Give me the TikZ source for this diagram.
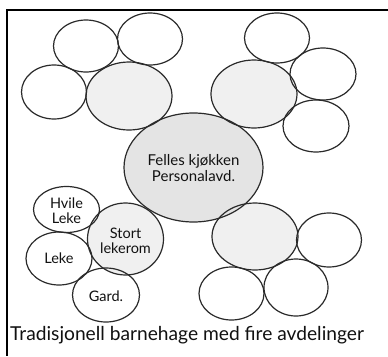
\documentclass[tikz,border=0pt]{standalone}
\usepackage{fontspec}
\setmainfont{Lato}
\usetikzlibrary{shapes.geometric}
\definecolor{linec}{HTML}{2A2A2A}
\definecolor{txtc}{HTML}{111111}
\definecolor{lightfill}{HTML}{F0F0F0}
\definecolor{midfill}{HTML}{E4E4E4}
\tikzset{
  room/.style={ellipse, draw=linec, line width=1.2pt, inner sep=0pt},
  lbl/.style={text=txtc, align=center, inner sep=0pt, font=\fontsize{14.5}{14.5}\selectfont},
  biglbl/.style={text=txtc, align=center, inner sep=0pt, font=\fontsize{15}{16}\selectfont},
  frameline/.style={line width=1.5pt, black},
}
\begin{document}
\begin{tikzpicture}[x=1pt,y=-1pt]
\useasboundingbox (0,0) rectangle (388,356);
% fills
\foreach \n/\x/\y/\rx/\ry/\c in {
  a/86/46/32.5/26/white, b/150/39/32.5/26/white, c/54/92/32.5/27/white,
  e/277/38/32.5/25/white, g/323/74/33/26/white, h/316/126/33/26/white,
  hv/66.5/209.5/33/23/white, lk/59/258.5/33/26.5/white, gd/106/295/33.5/27/white,
  k/329/240/32.5/27/white, l/231.5/293.5/32.5/26.5/white, m/296/287.5/32/28.5/white,
  d/129/96/43/34/lightfill, f/254/94/43/34/lightfill, j/255/236.5/43/33.5/lightfill,
  st/125.5/239/38/36/lightfill, ctr/193.5/167.5/69.5/54.5/midfill}
  { \fill[\c] (\x,\y) ellipse [x radius=\rx pt, y radius=\ry pt]; }
% outlines
\foreach \n/\x/\y/\rx/\ry in {
  a/86/46/32.5/26, b/150/39/32.5/26, c/54/92/32.5/27,
  e/277/38/32.5/25, g/323/74/33/26, h/316/126/33/26,
  hv/66.5/209.5/33/23, lk/59/258.5/33/26.5, gd/106/295/33.5/27,
  k/329/240/32.5/27, l/231.5/293.5/32.5/26.5, m/296/287.5/32/28.5,
  d/129/96/43/34, f/254/94/43/34, j/255/236.5/43/33.5,
  st/125.5/239/38/36, ctr/193.5/167.5/69.5/54.5}
  { \node[room, minimum width={2*\rx pt}, minimum height={2*\ry pt}] (\n) at (\x,\y) {}; }
% labels
\node[biglbl] (tctr) at ([yshift=-1pt]ctr.center) {Felles kjøkken\\Personalavd.};
\node[lbl] (thv) at ([yshift=-1pt]hv.center) {Hvile\\Leke};
\node[lbl] (tst) at ([yshift=-2pt]st.center) {Stort\\lekerom};
\node[lbl] (tlk) at ([yshift=0pt]lk.center) {Leke};
\node[lbl] (tgd) at ([yshift=-1pt]gd.center) {Gard.};
% caption
\node[text=txtc, anchor=base west, inner sep=0pt, font=\fontsize{19.2}{21}\selectfont] (cap) at (10,340) {Tradisjonell barnehage med fire avdelinger};
% frame
\coordinate (tl) at (7,10);
\coordinate (tr) at (388,10);
\coordinate (bl) at (7,356);
\draw[frameline] (tr) -- (tl) -- (bl);
\end{tikzpicture}
\end{document}
